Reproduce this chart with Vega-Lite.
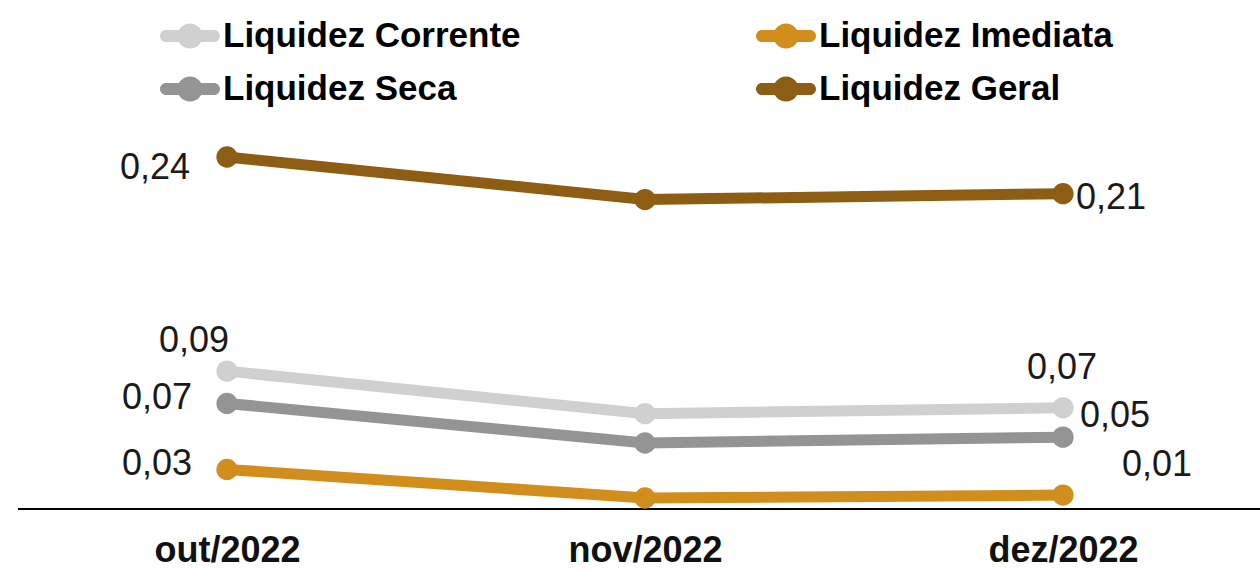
{
  "$schema": "https://vega.github.io/schema/vega-lite/v6.json",
  "width": 1242,
  "height": 440,
  "autosize": "none",
  "padding": {"left": 18, "top": 69, "right": 0, "bottom": 61},
  "background": "white",
  "config": {
    "view": {"stroke": null},
    "font": "Liberation Sans",
    "locale": {"number": {"decimal": ",", "thousands": ".", "grouping": [3], "currency": ["R$", ""]}}
  },
  "data": {
    "values": [
      {"mes": "out/2022", "serie": "Liquidez Corrente", "valor": 0.094},
      {"mes": "nov/2022", "serie": "Liquidez Corrente", "valor": 0.065},
      {"mes": "dez/2022", "serie": "Liquidez Corrente", "valor": 0.069},
      {"mes": "out/2022", "serie": "Liquidez Imediata", "valor": 0.027},
      {"mes": "nov/2022", "serie": "Liquidez Imediata", "valor": 0.0075},
      {"mes": "dez/2022", "serie": "Liquidez Imediata", "valor": 0.0095},
      {"mes": "out/2022", "serie": "Liquidez Seca", "valor": 0.072},
      {"mes": "nov/2022", "serie": "Liquidez Seca", "valor": 0.045},
      {"mes": "dez/2022", "serie": "Liquidez Seca", "valor": 0.049},
      {"mes": "out/2022", "serie": "Liquidez Geral", "valor": 0.24},
      {"mes": "nov/2022", "serie": "Liquidez Geral", "valor": 0.211},
      {"mes": "dez/2022", "serie": "Liquidez Geral", "valor": 0.215}
    ]
  },
  "encoding": {
    "x": {
      "field": "mes", "type": "ordinal",
      "sort": ["out/2022", "nov/2022", "dez/2022"],
      "scale": {"type": "point", "range": [209, 1045], "padding": 0},
      "axis": {
        "title": null, "labelAngle": 0, "ticks": false, "grid": false, "domain": false,
        "labelFont": "Liberation Sans", "labelFontWeight": "bold", "labelFontSize": 36,
        "labelColor": "#111111", "labelPadding": 24
      }
    },
    "y": {"field": "valor", "type": "quantitative", "scale": {"domain": [0, 0.3]}, "axis": null}
  },
  "layer": [
    {
      "mark": {"type": "rule", "color": "#000000", "strokeWidth": 2},
      "encoding": {"y": {"datum": 0}, "x": null}
    },
    {
      "mark": {"type": "line", "strokeWidth": 11},
      "encoding": {
        "color": {
          "field": "serie", "type": "nominal",
          "scale": {
            "domain": ["Liquidez Corrente", "Liquidez Imediata", "Liquidez Seca", "Liquidez Geral"],
            "range": ["#D0D0D0", "#D18E1C", "#949494", "#8C5D12"]
          },
          "legend": {
            "title": null, "orient": "none", "direction": "horizontal", "columns": 2,
            "legendX": 142, "legendY": -63,
            "symbolType": "M-0.8,-0.2 L0.8,-0.2 A0.2,0.2 0 0 1 0.8,0.2 L-0.8,0.2 A0.2,0.2 0 0 1 -0.8,-0.2 Z M-0.42,0 A0.42,0.42 0 1 1 0.42,0 A0.42,0.42 0 1 1 -0.42,0 Z",
            "symbolSize": 3600, "symbolStrokeWidth": 0, "symbolOpacity": 1,
            "labelFont": "Liberation Sans", "labelFontWeight": "bold", "labelFontSize": 35,
            "labelColor": "#000000", "labelOffset": 3, "labelLimit": 600,
            "columnPadding": 235, "rowPadding": 5,
            "encode": {"symbols": {"update": {"fill": {"scale": "color", "field": "value"}, "opacity": {"value": 1}}}}
          }
        }
      }
    },
    {
      "mark": {"type": "point", "filled": true, "size": 452, "opacity": 1},
      "encoding": {
        "color": {"field": "serie", "type": "nominal"}
      }
    },
    {
      "transform": [{"filter": "datum.serie == 'Liquidez Geral' && datum.mes == 'out/2022'"}],
      "mark": {"type": "text", "fontSize": 36, "color": "#1a1a1a", "align": "right", "baseline": "middle", "dx": -37, "dy": 11},
      "encoding": {"text": {"field": "valor", "type": "quantitative", "format": ".2f"}}
    },
    {
      "transform": [{"filter": "datum.serie == 'Liquidez Geral' && datum.mes == 'dez/2022'"}],
      "mark": {"type": "text", "fontSize": 36, "color": "#1a1a1a", "align": "left", "baseline": "middle", "dx": 13, "dy": 4},
      "encoding": {"text": {"field": "valor", "type": "quantitative", "format": ".2f"}}
    },
    {
      "transform": [{"filter": "datum.serie == 'Liquidez Corrente' && datum.mes == 'out/2022'"}],
      "mark": {"type": "text", "fontSize": 36, "color": "#1a1a1a", "align": "center", "baseline": "middle", "dx": -33, "dy": -30},
      "encoding": {"text": {"field": "valor", "type": "quantitative", "format": ".2f"}}
    },
    {
      "transform": [{"filter": "(datum.serie == 'Liquidez Seca' || datum.serie == 'Liquidez Imediata') && datum.mes == 'out/2022'"}],
      "mark": {"type": "text", "fontSize": 36, "color": "#1a1a1a", "align": "right", "baseline": "middle", "dx": -35, "dy": -5},
      "encoding": {"text": {"field": "valor", "type": "quantitative", "format": ".2f"}}
    },
    {
      "transform": [{"filter": "datum.serie == 'Liquidez Corrente' && datum.mes == 'dez/2022'"}],
      "mark": {"type": "text", "fontSize": 36, "color": "#1a1a1a", "align": "center", "baseline": "middle", "dx": -1, "dy": -40},
      "encoding": {"text": {"field": "valor", "type": "quantitative", "format": ".2f"}}
    },
    {
      "transform": [{"filter": "datum.serie == 'Liquidez Seca' && datum.mes == 'dez/2022'"}],
      "mark": {"type": "text", "fontSize": 36, "color": "#1a1a1a", "align": "left", "baseline": "middle", "dx": 17, "dy": -21},
      "encoding": {"text": {"field": "valor", "type": "quantitative", "format": ".2f"}}
    },
    {
      "transform": [{"filter": "datum.serie == 'Liquidez Imediata' && datum.mes == 'dez/2022'"}],
      "mark": {"type": "text", "fontSize": 36, "color": "#1a1a1a", "align": "left", "baseline": "middle", "dx": 59, "dy": -30},
      "encoding": {"text": {"field": "valor", "type": "quantitative", "format": ".2f"}}
    }
  ]
}
